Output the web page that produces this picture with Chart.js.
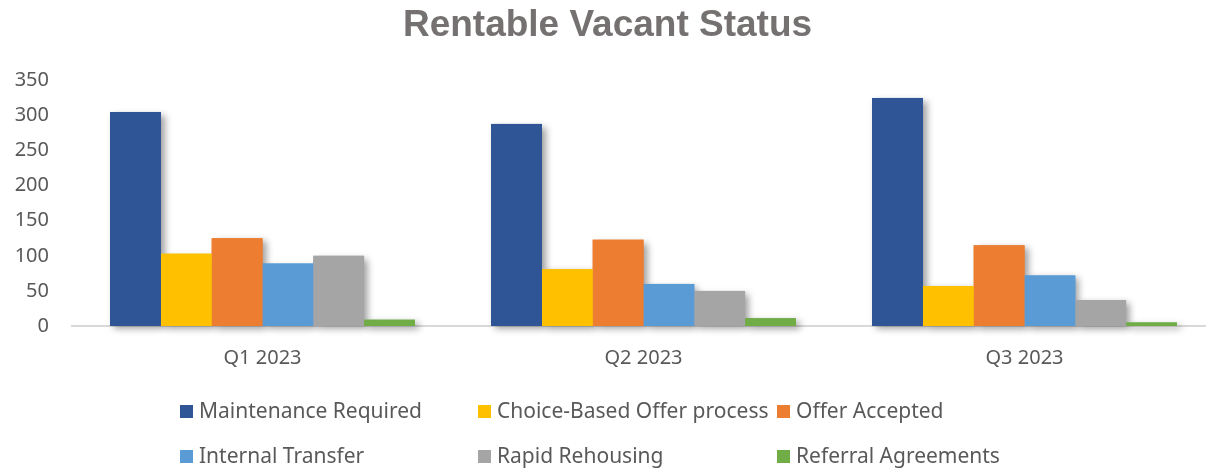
<!DOCTYPE html>
<html>
<head>
<meta charset="utf-8">
<script src="https://cdn.jsdelivr.net/npm/chart.js@4"></script>
<style>
  html, body { margin: 0; padding: 0; background: #fff; overflow: hidden; }
  #wrap { position: relative; width: 1206px; height: 468px; overflow: hidden; }
  #myChart { position: absolute; left: 0; top: 0; }
  #legend { position: absolute; left: 0; top: 0; width: 1206px; height: 468px; pointer-events: none;
    font-family: "Noto Sans", sans-serif; font-size: 21px; color: #595959; }
  .item { position: absolute; white-space: nowrap; line-height: 26px; }
  .box { display: inline-block; width: 13px; height: 13px; margin-right: 6px; vertical-align: 0px; }
</style>
</head>
<body>
<div id="wrap">
  <canvas id="myChart" width="1216" height="468"></canvas>
  <div id="legend"></div>
</div>
<script>
const quarters = ["Q1 2023", "Q2 2023", "Q3 2023"];
const seriesNames = ["Maintenance Required", "Choice-Based Offer process", "Offer Accepted",
  "Internal Transfer", "Rapid Rehousing", "Referral Agreements"];
const maintenance = [305, 288, 325];
const choiceBased = [103, 81, 57];
const offerAccepted = [125, 123, 115];
const internalTransfer = [89, 60, 72];
const rapidRehousing = [100, 50, 37];
const referral = [9, 11, 5];
const yTicks = [0, 50, 100, 150, 200, 250, 300, 350];

const colores = ["#2F5597", "#FFC000", "#ED7D31", "#5B9BD5", "#A5A5A5", "#70AD47"];
const valores = [maintenance, choiceBased, offerAccepted, internalTransfer, rapidRehousing, referral];

const datasets = seriesNames.map((nombre, i) => {
  return {
    label: nombre,
    data: valores[i],
    backgroundColor: colores[i],
    categoryPercentage: 0.8,
    barPercentage: 1.0
  };
});

// soft drop shadow under all bars, painted before the bars themselves
const sombra = {
  id: "sombra",
  beforeDatasetsDraw(chart) {
    const ctx = chart.ctx;
    ctx.save();
    ctx.shadowColor = "rgba(0,0,0,0.38)";
    ctx.shadowBlur = 7;
    ctx.shadowOffsetX = 4;
    ctx.shadowOffsetY = 3;
    chart.data.datasets.forEach((ds, i) => {
      chart.getDatasetMeta(i).data.forEach((bar) => {
        ctx.fillStyle = ds.backgroundColor;
        ctx.fillRect(bar.x - bar.width / 2, bar.y, bar.width, bar.base - bar.y);
      });
    });
    ctx.restore();
  }
};

const config = {
  type: "bar",
  data: { labels: quarters, datasets },
  options: {
    responsive: false,
    animation: false,
    layout: { padding: { left: 0, right: 1, top: 0, bottom: 0 } },
    plugins: {
      legend: { display: false },
      tooltip: { enabled: false },
      title: {
        display: true,
        text: "Rentable Vacant Status",
        color: "#757171",
        font: { family: "Liberation Sans", size: 37, weight: "bold" },
        padding: { top: 4, bottom: 32 }
      }
    },
    scales: {
      x: {
        grid: { display: false },
        border: { display: true, color: "#D9D9D9", width: 2 },
        ticks: { color: "#595959", font: { family: "Noto Sans", size: 20 }, padding: 12 },
        afterFit: (s) => { s.height = 142; }
      },
      y: {
        min: 0,
        max: 350,
        afterBuildTicks: (s) => { s.ticks = yTicks.map((v) => ({ value: v })); },
        grid: { display: false, drawTicks: false },
        border: { display: false },
        ticks: { color: "#595959", font: { family: "Noto Sans", size: 20 }, padding: 23 },
        afterFit: (s) => { s.width = 72; }
      }
    }
  },
  plugins: [sombra]
};

const myChart = new Chart(document.getElementById("myChart"), config);

// legend in three equal columns
const legendPos = [[180, 397], [478, 397], [777, 397], [180, 442], [478, 442], [777, 442]];
const leyenda = document.getElementById("legend");
seriesNames.forEach((nombre, i) => {
  const item = document.createElement("div");
  item.className = "item";
  item.style.left = legendPos[i][0] + "px";
  item.style.top = legendPos[i][1] + "px";
  item.innerHTML = `<span class="box" style="background:${colores[i]}"></span>${nombre}`;
  leyenda.appendChild(item);
});
</script>
</body>
</html>
